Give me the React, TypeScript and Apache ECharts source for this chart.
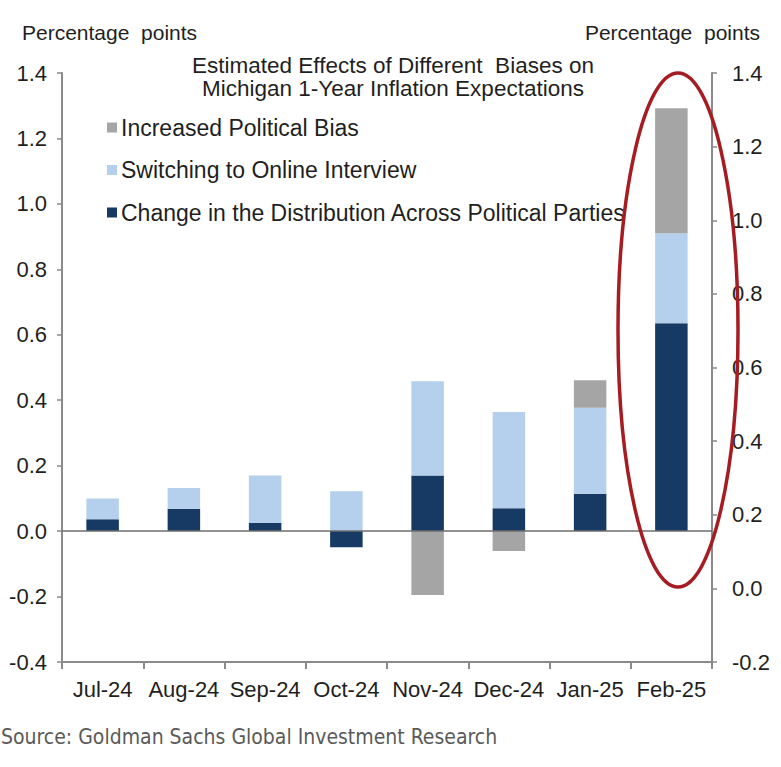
import React, { useEffect, useRef } from "react";
import * as echarts from "echarts";

const categories = ["Jul-24", "Aug-24", "Sep-24", "Oct-24", "Nov-24", "Dec-24", "Jan-25", "Feb-25"];
const distributionChange = [0.036, 0.068, 0.025, -0.049, 0.17, 0.07, 0.114, 0.635];
const onlineInterview = [0.064, 0.064, 0.145, 0.122, 0.288, 0.294, 0.263, 0.275];
const politicalBias = [0, 0, 0, 0, -0.195, -0.061, 0.084, 0.382];

const seriesNames = [
  "Change in the Distribution Across Political Parties",
  "Switching to Online Interview",
  "Increased Political Bias",
];
const legendOrder = [seriesNames[2], seriesNames[1], seriesNames[0]];
const titleLines = ["Estimated Effects of Different  Biases on", "Michigan 1-Year Inflation Expectations"];
const axisName = "Percentage  points";
const sourceText = "Source: Goldman Sachs Global Investment Research";

const FONT = "'Liberation Sans', Arial, sans-serif";
const TXT = "#1f1f1f";
const AXIS = "#8a8a8a";

export default function App() {
  const ref = useRef<HTMLDivElement>(null);
  useEffect(() => {
    document.body.style.margin = "0";
    if (!ref.current) return;
    const chart = echarts.init(ref.current, null, { renderer: "svg" });
    const fmt = (v: number) => v.toFixed(1);
    chart.setOption({
      animation: false,
      backgroundColor: "#ffffff",
      textStyle: { fontFamily: FONT },
      title: {
        text: titleLines.join("\n"),
        left: 388,
        top: 49,
        textAlign: "center",
        textStyle: { fontSize: 22.5, fontWeight: "normal", color: TXT, lineHeight: 23, fontFamily: FONT },
      },
      legend: {
        data: legendOrder,
        orient: "vertical",
        left: 102,
        top: 111,
        itemWidth: 10,
        itemHeight: 10,
        itemGap: 19.5,
        icon: "rect",
        textStyle: { fontSize: 23, color: TXT, fontFamily: FONT, padding: [0, 0, 0, -1] },
      },
      grid: { left: 62, right: 69, top: 73, bottom: 105, containLabel: false },
      xAxis: {
        type: "category",
        data: categories,
        boundaryGap: true,
        axisLine: { onZero: false, lineStyle: { color: AXIS, width: 2 } },
        axisTick: { show: true, alignWithLabel: false, length: 7, lineStyle: { color: AXIS, width: 2 } },
        axisLabel: { fontSize: 22, color: TXT, margin: 16, fontFamily: FONT, interval: 0 },
      },
      yAxis: [
        {
          type: "value",
          min: -0.4,
          max: 1.4,
          interval: 0.2,
          position: "left",
          axisLine: { show: true, lineStyle: { color: AXIS, width: 2 } },
          axisTick: { show: true, length: 5, lineStyle: { color: AXIS, width: 1.5 } },
          axisLabel: { fontSize: 22, color: TXT, margin: 15, formatter: fmt, fontFamily: FONT },
          splitLine: { show: false },
        },
        {
          type: "value",
          min: -0.2,
          max: 1.4,
          interval: 0.2,
          position: "right",
          axisLine: { show: true, lineStyle: { color: AXIS, width: 2 } },
          axisTick: { show: true, length: 5, lineStyle: { color: AXIS, width: 1.5 } },
          axisLabel: { fontSize: 22, color: TXT, margin: 20, formatter: fmt, fontFamily: FONT },
          splitLine: { show: false },
        },
      ],
      series: [
        {
          name: seriesNames[0],
          type: "bar",
          stack: "total",
          barWidth: "40%",
          data: distributionChange,
          itemStyle: { color: "#163a64" },
          markLine: {
            silent: true,
            symbol: "none",
            label: { show: false },
            lineStyle: { type: "solid", color: "#6e6e6e", width: 1.5 },
            data: [{ yAxis: 0 }],
            z: 5,
          },
        },
        {
          name: seriesNames[1],
          type: "bar",
          stack: "total",
          barWidth: "40%",
          data: onlineInterview,
          itemStyle: { color: "#b5d0ec" },
        },
        {
          name: seriesNames[2],
          type: "bar",
          stack: "total",
          barWidth: "40%",
          data: politicalBias,
          itemStyle: { color: "#a5a5a5" },
        },
      ],
      graphic: [
        {
          type: "text",
          left: 22,
          top: 22,
          style: { text: axisName, fontSize: 21, fill: TXT, fontFamily: FONT },
        },
        {
          type: "text",
          right: 21,
          top: 22,
          style: { text: axisName, fontSize: 21, fill: TXT, fontFamily: FONT },
        },
        {
          type: "ellipse",
          shape: { cx: 678, cy: 330, rx: 60, ry: 257 },
          style: { fill: "none", stroke: "#a51d22", lineWidth: 3.5 },
          z: 100,
        },
        {
          type: "text",
          left: 1,
          top: 726,
          style: {
            text: sourceText,
            fontSize: 21,
            fill: "#5a5a5a",
            fontFamily: "'Liberation Sans Narrow', 'DejaVu Sans Condensed', sans-serif",
          },
        },
      ],
    });
    return () => chart.dispose();
  }, []);
  return <div ref={ref} style={{ width: 781, height: 767 }} />;
}
